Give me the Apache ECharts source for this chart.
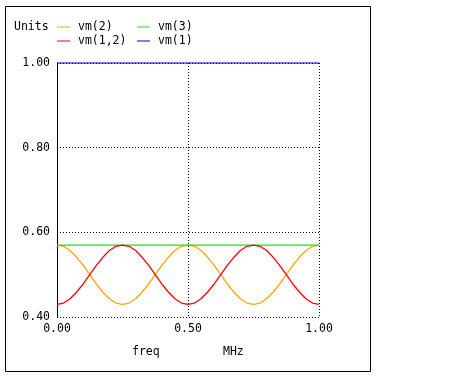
<!DOCTYPE html>
<html lang="en">
<head>
  <meta charset="UTF-8">
  <script src="https://cdn.jsdelivr.net/npm/echarts@6/dist/echarts.min.js"></script>
</head>
<body style="margin:0;background:#fff">
  <div id="chart" style="width:473px;height:377px;"></div>
  <script type="text/javascript">
    // sample frequencies (MHz)
    var freq = [0, 0.025, 0.05, 0.075, 0.1, 0.125, 0.15, 0.175, 0.2, 0.225, 0.25,
                0.275, 0.3, 0.325, 0.35, 0.375, 0.4, 0.425, 0.45, 0.475, 0.5,
                0.525, 0.55, 0.575, 0.6, 0.625, 0.65, 0.675, 0.7, 0.725, 0.75,
                0.775, 0.8, 0.825, 0.85, 0.875, 0.9, 0.925, 0.95, 0.975, 1];
    var vm2 = [0.570, 0.567, 0.557, 0.541, 0.522, 0.500, 0.478, 0.459, 0.443, 0.433, 0.430,
               0.433, 0.443, 0.459, 0.478, 0.500, 0.522, 0.541, 0.557, 0.567, 0.570,
               0.567, 0.557, 0.541, 0.522, 0.500, 0.478, 0.459, 0.443, 0.433, 0.430,
               0.433, 0.443, 0.459, 0.478, 0.500, 0.522, 0.541, 0.557, 0.567, 0.570];
    var vm12 = [0.430, 0.433, 0.443, 0.459, 0.478, 0.500, 0.522, 0.541, 0.557, 0.567, 0.570,
                0.567, 0.557, 0.541, 0.522, 0.500, 0.478, 0.459, 0.443, 0.433, 0.430,
                0.433, 0.443, 0.459, 0.478, 0.500, 0.522, 0.541, 0.557, 0.567, 0.570,
                0.567, 0.557, 0.541, 0.522, 0.500, 0.478, 0.459, 0.443, 0.433, 0.430];
    var vm3Freq = [0, 1];
    var vm3 = [0.570, 0.570];
    var vm1Freq = [0, 1];
    var vm1 = [1.0, 1.0];

    var font = '"DejaVu Sans Mono", monospace';

    function pairs(xs, ys) {
        return xs.map(function (x, i) { return [x, ys[i]]; });
    }

    function legendAt(name, left, top) {
        return {
            data: [name],
            left: left,
            top: top,
            icon: 'rect',
            itemWidth: 13,
            itemHeight: 1,
            padding: 0,
            textStyle: { fontFamily: font, fontSize: 11.5, color: '#000', padding: [0, 0, 0, 3] },
            selectedMode: false
        };
    }

    var chart = echarts.init(document.getElementById('chart'));
    var option = {
        animation: false,
        backgroundColor: '#fff',
        grid: { left: 57, top: 63, right: 154, bottom: 60 },
        legend: [
            legendAt('vm(2)', 57, 21),
            legendAt('vm(3)', 137, 21),
            legendAt('vm(1,2)', 57, 35),
            legendAt('vm(1)', 137, 35)
        ],
        graphic: [
            {
                type: 'rect',
                shape: { x: 5.5, y: 6.5, width: 365, height: 365 },
                style: { fill: 'none', stroke: '#000', lineWidth: 1 },
                silent: true
            },
            { type: 'text', left: 14, top: 21, style: { text: 'Units', font: '11.5px ' + font, fill: '#000' } },
            { type: 'text', left: 132, top: 346, style: { text: 'freq', font: '11.5px ' + font, fill: '#000' } },
            { type: 'text', left: 223, top: 346, style: { text: 'MHz', font: '11.5px ' + font, fill: '#000' } }
        ],
        xAxis: {
            type: 'value',
            min: 0,
            max: 1,
            interval: 0.5,
            axisLine: { show: false },
            axisTick: { show: false },
            axisLabel: {
                margin: 6,
                fontFamily: font,
                fontSize: 11.5,
                color: '#000',
                formatter: function (v) { return v.toFixed(2); }
            },
            splitLine: { show: true, lineStyle: { color: '#000', type: [1, 2], width: 1 } }
        },
        yAxis: {
            type: 'value',
            min: 0.4,
            max: 1.0,
            interval: 0.2,
            axisLine: { show: true, lineStyle: { color: '#000', width: 1 } },
            axisTick: { show: false },
            axisLabel: {
                margin: 7,
                fontFamily: font,
                fontSize: 11.5,
                color: '#000',
                formatter: function (v) { return v.toFixed(2); }
            },
            splitLine: { show: true, lineStyle: { color: '#000', type: [1, 2], width: 1 } }
        },
        series: [
            {
                name: 'vm(2)', type: 'line', showSymbol: false,
                color: '#ffa500', lineStyle: { width: 1.3 },
                data: pairs(freq, vm2)
            },
            {
                name: 'vm(3)', type: 'line', showSymbol: false,
                color: '#22dd22', lineStyle: { width: 1.2 },
                data: pairs(vm3Freq, vm3)
            },
            {
                name: 'vm(1,2)', type: 'line', showSymbol: false,
                color: '#ff0000', lineStyle: { width: 1.3 },
                data: pairs(freq, vm12)
            },
            {
                name: 'vm(1)', type: 'line', showSymbol: false, clip: false,
                color: '#0000c8', lineStyle: { width: 1.2 },
                data: pairs(vm1Freq, vm1)
            }
        ]
    };
    chart.setOption(option);
  </script>
</body>
</html>
